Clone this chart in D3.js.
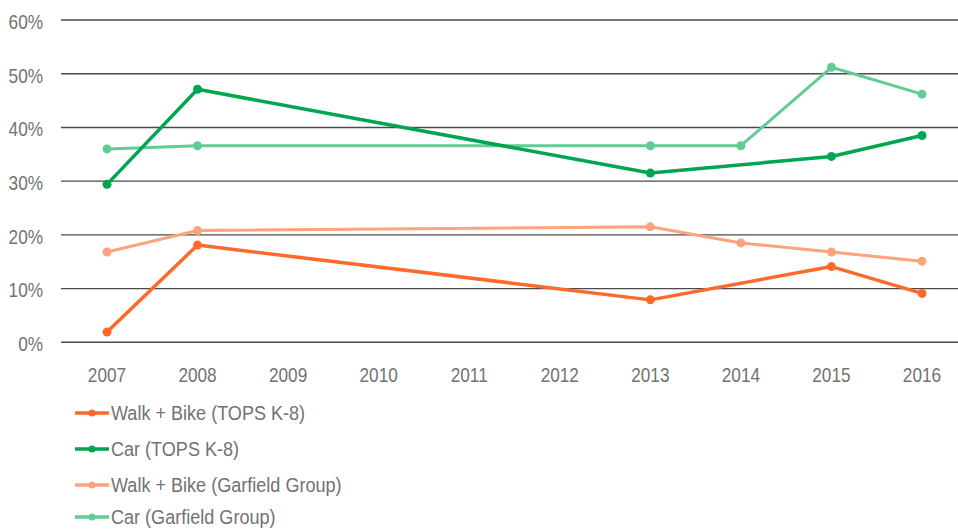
<!DOCTYPE html>
<html>
<head>
<meta charset="utf-8">
<script src="https://cdn.jsdelivr.net/npm/d3@7"></script>
<style>
html,body{margin:0;padding:0;background:#fff;}
svg{display:block;}
text{font-family:"Liberation Sans",Arial,sans-serif;fill:#727272;}
</style>
</head>
<body>
<svg id="chart" width="958" height="529"></svg>
<script>
const years = ["2007","2008","2009","2010","2011","2012","2013","2014","2015","2016"];
const yTicks = [0, 10, 20, 30, 40, 50, 60];
const seriesNames = ["Walk + Bike (TOPS K-8)", "Car (TOPS K-8)", "Walk + Bike (Garfield Group)", "Car (Garfield Group)"];
const walkBikeTops = [1.9, 18.1, null, null, null, null, 7.9, null, 14.1, 9.1];
const carTops = [29.4, 47.1, null, null, null, null, 31.5, null, 34.6, 38.5];
const walkBikeGarfield = [16.8, 20.8, null, null, null, null, 21.5, 18.5, 16.8, 15.1];
const carGarfield = [36.0, 36.6, null, null, null, null, 36.6, 36.6, 51.2, 46.2];
const colors = ["#ff6a2b", "#00a550", "#ffa27e", "#62cc95"];
const widths = [3.5, 3.5, 3, 3];

const allSeries = [walkBikeTops, carTops, walkBikeGarfield, carGarfield];

const svg = d3.select("#chart");
const x = d3.scalePoint().domain(years).range([107, 922]);
const y = d3.scaleLinear().domain([0, 60]).range([342.3, 20]);
const SX = 0.82; // condensed look
const SXL = 0.86;

function place(sel, fx, fy) {
  sel.attr("transform", (d, i) => `translate(${fx(d, i)},${fy(d, i)}) scale(${SX},1)`);
}

// gridlines
svg.append("g").selectAll("line").data(yTicks).join("line")
  .attr("x1", 61).attr("x2", 958)
  .attr("y1", d => y(d)).attr("y2", d => y(d))
  .attr("stroke", "#4a4a4a").attr("stroke-width", 1.4);

// y labels
svg.append("g").selectAll("text").data(yTicks).join("text")
  .call(place, () => 43, d => y(d) + 1.5)
  .attr("dy", "0.35em").attr("text-anchor", "end")
  .attr("font-size", 21)
  .text(d => d + "%");

// x labels
svg.append("g").selectAll("text").data(years).join("text")
  .call(place, d => x(d), () => 375)
  .attr("dy", "0.35em").attr("text-anchor", "middle")
  .attr("font-size", 21)
  .text(d => d);

const line = d3.line().x(d => x(d.year)).y(d => y(d.v));

// draw order: light series first, then dark ones
const order = [3, 2, 1, 0];
order.forEach(i => {
  const pts = years.map((yr, j) => ({year: yr, v: allSeries[i][j]})).filter(p => p.v !== null);
  const g = svg.append("g");
  g.append("path").datum(pts)
    .attr("d", line).attr("fill", "none")
    .attr("stroke", colors[i]).attr("stroke-width", widths[i])
    .attr("stroke-linejoin", "round").attr("stroke-linecap", "round");
  g.selectAll("circle").data(pts).join("circle")
    .attr("cx", d => x(d.year)).attr("cy", d => y(d.v))
    .attr("r", 4.5).attr("fill", colors[i]);
});

// legend
const legendY = [413, 449, 485, 517];
const lg = svg.append("g");
seriesNames.forEach((name, i) => {
  const row = lg.append("g").attr("transform", `translate(0,${legendY[i]})`);
  row.append("line").attr("x1", 75).attr("x2", 109).attr("y1", 0).attr("y2", 0)
    .attr("stroke", colors[i]).attr("stroke-width", 3.5);
  row.append("circle").attr("cx", 92).attr("cy", 0).attr("r", 3.5).attr("fill", colors[i]);
  row.append("text").attr("transform", `translate(111,0) scale(${SXL},1)`)
    .attr("dy", "0.35em")
    .attr("font-size", 21).text(name);
});
</script>
</body>
</html>
